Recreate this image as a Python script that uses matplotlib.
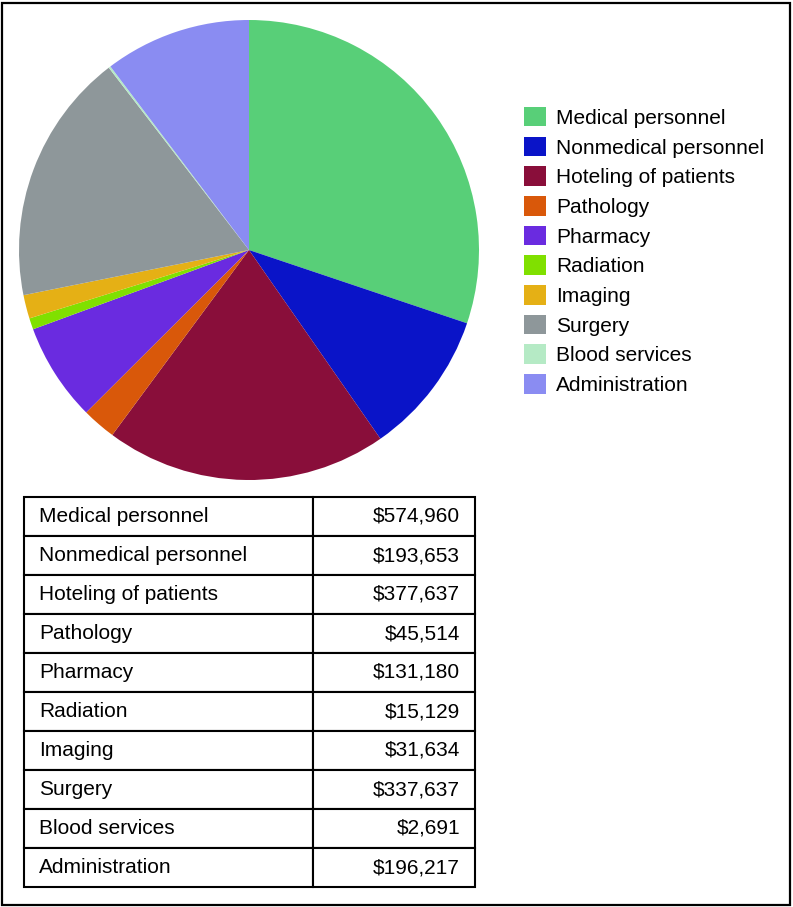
import matplotlib
matplotlib.use("Agg")
import matplotlib.pyplot as plt
from matplotlib.patches import Patch

categories = ["Medical personnel", "Nonmedical personnel", "Hoteling of patients",
              "Pathology", "Pharmacy", "Radiation", "Imaging", "Surgery",
              "Blood services", "Administration"]
costs = [574960, 193653, 377637, 45514, 131180, 15129, 31634, 337637, 2691, 196217]
colors = ["#58CF78", "#0A14C8", "#890E3A", "#D9580A", "#6A2BE0",
          "#80E000", "#E5B015", "#8E979A", "#B5EAC5", "#8A8CF2"]

plt.rcParams['font.family'] = ['Liberation Sans', 'DejaVu Sans']
W, H = 793, 907
fig = plt.figure(figsize=(W/100, H/100), dpi=100)

# outer frame
fig.patches.append(plt.Rectangle((2/W, 2/H), (W-5)/W, (H-5)/H, transform=fig.transFigure,
                                 fill=False, edgecolor='black', linewidth=1.6))

# pie
cx, cy, r = 249, 250, 230
ax = fig.add_axes([(cx-r)/W, (H-(cy+r))/H, 2*r/W, 2*r/H])
ax.pie(costs, colors=colors, startangle=90, counterclock=False, radius=1,
       wedgeprops=dict(linewidth=0))
ax.set_xlim(-1, 1); ax.set_ylim(-1, 1)
ax.set_aspect('equal')
ax.axis('off')

# legend
fs = 15
handles = [Patch(facecolor=c, edgecolor='none') for c in colors]
fig.legend(handles, categories, loc='upper left',
           bbox_to_anchor=(524/W, 1-107/H), frameon=False, fontsize=fs,
           handlelength=1.06, handleheight=1.06, handletextpad=0.48,
           labelspacing=0.425, borderpad=0, borderaxespad=0)

# table
tx0, tx1, ty0, ty1 = 24, 475, 497, 887
tax = fig.add_axes([tx0/W, (H-ty1)/H, (tx1-tx0)/W, (ty1-ty0)/H])
tax.axis('off')
cell_text = [[c, "${:,}".format(v)] for c, v in zip(categories, costs)]
w1 = (313-tx0)/(tx1-tx0)
tbl = tax.table(cellText=cell_text, colWidths=[w1, 1-w1], bbox=[0, 0, 1, 1])
tbl.auto_set_font_size(False)
tbl.set_fontsize(fs)
for (row, col), cell in tbl.get_celld().items():
    cell.set_linewidth(1.5)
    cell.set_edgecolor('black')
    if col == 0:
        cell._loc = 'left'
        cell.PAD = 15/(313-tx0)
        cell.get_text().set_ha('left')
    else:
        cell._loc = 'right'
        cell.PAD = 15/(tx1-313)
        cell.get_text().set_ha('right')

fig.savefig("out.png", dpi=100)
